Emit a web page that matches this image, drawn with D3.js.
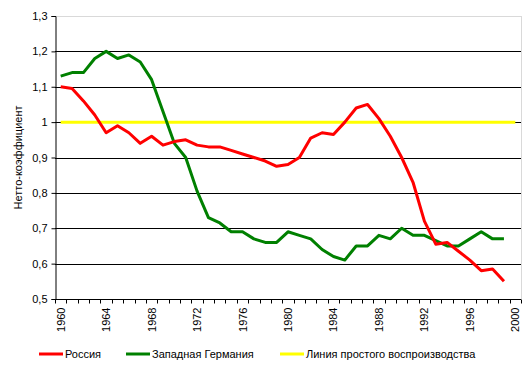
<!DOCTYPE html>
<html>
<head>
<meta charset="utf-8">
<script src="https://cdn.jsdelivr.net/npm/d3@7"></script>
<style>
  body { margin: 0; background: #fff; }
  svg { display: block; font-family: "Liberation Sans", Arial, sans-serif; }
</style>
</head>
<body>
<div id="chart"></div>
<script>
// years on the category axis
var years = d3.range(1960, 2001);
var yTicks = [0.5, 0.6, 0.7, 0.8, 0.9, 1.0, 1.1, 1.2, 1.3];
var xLabels = [1960, 1964, 1968, 1972, 1976, 1980, 1984, 1988, 1992, 1996, 2000];

var russia = [1.10, 1.095, 1.06, 1.02, 0.97, 0.99, 0.97, 0.94, 0.96, 0.935,
  0.945, 0.95, 0.935, 0.93, 0.93, 0.92, 0.91, 0.90, 0.89, 0.875,
  0.88, 0.90, 0.955, 0.97, 0.965, 1.0, 1.04, 1.05, 1.01, 0.96,
  0.90, 0.83, 0.72, 0.655, 0.66, 0.635, 0.61, 0.58, 0.585, 0.55];

var germany = [1.13, 1.14, 1.14, 1.18, 1.20, 1.18, 1.19, 1.17, 1.12, 1.03,
  0.94, 0.90, 0.805, 0.73, 0.715, 0.69, 0.69, 0.67, 0.66, 0.66,
  0.69, 0.68, 0.67, 0.64, 0.62, 0.61, 0.65, 0.65, 0.68, 0.67,
  0.70, 0.68, 0.68, 0.665, 0.65, 0.65, 0.67, 0.69, 0.67, 0.67];

var replacement = years.map(function() { return 1; });

var width = 528, height = 371;
var margin = {left: 55, right: 7, top: 16, bottom: 72};

var svg = d3.select('#chart').append('svg')
  .attr('width', width)
  .attr('height', height);

var x = d3.scaleBand()
  .domain(years)
  .range([margin.left, width - margin.right]);

var y = d3.scaleLinear()
  .domain([0.5, 1.3])
  .range([height - margin.bottom, margin.top]);

var cx = function(yr) { return x(yr) + x.bandwidth() / 2; };
var fmt = function(v) { return d3.format('.1f')(v).replace('.', ',').replace(',0', ''); };

// grid lines
svg.append('g')
  .selectAll('line')
  .data(yTicks.slice(1))
  .enter().append('line')
    .attr('x1', margin.left)
    .attr('x2', width - margin.right)
    .attr('y1', d => Math.round(y(d)) + 0.5)
    .attr('y2', d => Math.round(y(d)) + 0.5)
    .attr('stroke', d => d === 1.3 ? '#d9d9d9' : '#000')
    .attr('stroke-width', 1);

// right border of plot area
svg.append('line')
  .attr('x1', width - margin.right + 0.5)
  .attr('x2', width - margin.right + 0.5)
  .attr('y1', y(1.3))
  .attr('y2', y(0.5))
  .attr('stroke', '#d9d9d9');

var line = d3.line()
  .x((d, i) => cx(years[i]))
  .y(d => y(d));

svg.append('path')
  .datum(replacement)
  .attr('fill', 'none')
  .attr('stroke', '#ffff00')
  .attr('stroke-width', 3)
  .attr('d', line);

svg.append('path')
  .datum(germany)
  .attr('fill', 'none')
  .attr('stroke', '#008000')
  .attr('stroke-width', 3)
  .attr('stroke-linejoin', 'round')
  .attr('d', line);

svg.append('path')
  .datum(russia)
  .attr('fill', 'none')
  .attr('stroke', '#ff0000')
  .attr('stroke-width', 3)
  .attr('stroke-linejoin', 'round')
  .attr('d', line);

// y axis
var yAxis = svg.append('g')
  .attr('transform', 'translate(' + (margin.left + 0.5) + ',0)')
  .call(d3.axisLeft(y).tickValues(yTicks).tickFormat(fmt).tickSize(4).tickPadding(4));
yAxis.select('.domain').attr('stroke', '#000');
yAxis.selectAll('text').style('font-size', '11px').attr('fill', '#000');

// x axis, ticks between categories
var xg = svg.append('g')
  .attr('transform', 'translate(0,' + (Math.round(y(0.5)) + 0.5) + ')');
xg.append('line')
  .attr('x1', margin.left)
  .attr('x2', width - margin.right)
  .attr('stroke', '#000');
xg.selectAll('line.tick')
  .data(years.concat([2001]))
  .enter().append('line')
    .attr('class', 'tick')
    .attr('x1', d => Math.round(d === 2001 ? x.range()[1] : x(d)) + 0.5)
    .attr('x2', d => Math.round(d === 2001 ? x.range()[1] : x(d)) + 0.5)
    .attr('y1', 0)
    .attr('y2', 4)
    .attr('stroke', '#000');
xg.selectAll('text')
  .data(xLabels)
  .enter().append('text')
    .attr('transform', d => 'translate(' + (cx(d) + 4) + ',8) rotate(-90)')
    .attr('text-anchor', 'end')
    .style('font-size', '11px')
    .text(d => d);

// y axis title
svg.append('text')
  .attr('transform', 'translate(22,' + ((y(1.3) + y(0.5)) / 2) + ') rotate(-90)')
  .attr('text-anchor', 'middle')
  .style('font-size', '11px')
  .text('Нетто-коэффициент');

// legend
var legend = [
  {name: 'Россия', color: '#ff0000', x: 39},
  {name: 'Западная Германия', color: '#008000', x: 126},
  {name: 'Линия простого воспроизводства', color: '#ffff00', x: 280}
];
var lg = svg.append('g').attr('transform', 'translate(0,354)');
lg.selectAll('line')
  .data(legend)
  .enter().append('line')
    .attr('x1', d => d.x)
    .attr('x2', d => d.x + 24)
    .attr('stroke', d => d.color)
    .attr('stroke-width', 3);
lg.selectAll('text')
  .data(legend)
  .enter().append('text')
    .attr('x', d => d.x + 26)
    .attr('y', 4)
    .style('font-size', '11px')
    .text(d => d.name);
</script>
</body>
</html>
